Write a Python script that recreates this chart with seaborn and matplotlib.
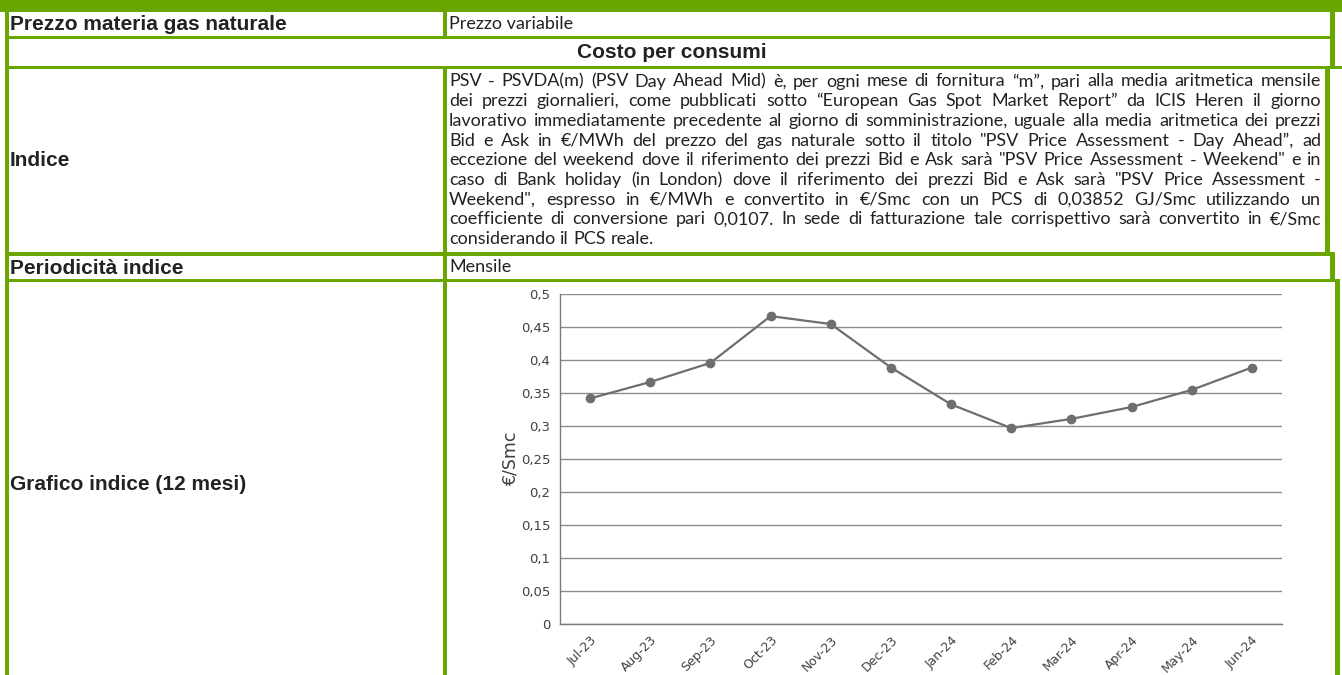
import matplotlib
matplotlib.use("Agg")
import matplotlib.pyplot as plt
import pandas as pd
import seaborn as sns
from matplotlib.patches import Rectangle
from matplotlib.font_manager import FontProperties

# Data
mesi = ["Jul-23", "Aug-23", "Sep-23", "Oct-23", "Nov-23", "Dec-23",
        "Jan-24", "Feb-24", "Mar-24", "Apr-24", "May-24", "Jun-24"]
prezzo = [0.342, 0.367, 0.396, 0.467, 0.455, 0.389,
          0.333, 0.297, 0.311, 0.329, 0.355, 0.389]
y_ticks = [0, 0.05, 0.1, 0.15, 0.2, 0.25, 0.3, 0.35, 0.4, 0.45, 0.5]
y_tick_labels = ["0", "0,05", "0,1", "0,15", "0,2", "0,25",
                 "0,3", "0,35", "0,4", "0,45", "0,5"]
y_label = "€/Smc"

etichette = ["Prezzo materia gas naturale", "Indice",
             "Periodicità indice", "Grafico indice (12 mesi)"]
sezione = "Costo per consumi"
valori = ["Prezzo variabile", "Mensile"]
indice_righe = [
    "PSV - PSVDA(m) (PSV Day Ahead Mid) è, per ogni mese di fornitura “m”, pari alla media aritmetica mensile",
    "dei prezzi giornalieri, come pubblicati sotto “European Gas Spot Market Report” da ICIS Heren il giorno",
    "lavorativo immediatamente precedente al giorno di somministrazione, uguale alla media aritmetica dei prezzi",
    "Bid e Ask in €/MWh del prezzo del gas naturale sotto il titolo \"PSV Price Assessment - Day Ahead”, ad",
    "eccezione del weekend dove il riferimento dei prezzi Bid e Ask sarà \"PSV Price Assessment - Weekend\" e in",
    "caso di Bank holiday (in London) dove il riferimento dei prezzi Bid e Ask sarà \"PSV Price Assessment -",
    "Weekend\", espresso in €/MWh e convertito in €/Smc con un PCS di 0,03852 GJ/Smc utilizzando un",
    "coefficiente di conversione pari 0,0107. In sede di fatturazione tale corrispettivo sarà convertito in €/Smc",
    "considerando il PCS reale.",
]

W, H = 1342, 675
GREEN = "#6aa600"
TXT = "#222222"

sns.set_theme(style="white")
fig = plt.figure(figsize=(W / 100, H / 100), dpi=100)

# background layer in pixel coordinates
bg = fig.add_axes([0, 0, 1, 1])
bg.set_xlim(0, W)
bg.set_ylim(H, 0)
bg.axis("off")

borders = [
    (0, 0, W, 12),          # top band
    (5, 0, 9, H),           # left border
    (5, 36, 1335, 39),
    (5, 66, W, 69),
    (5, 252, 1335, 255.5),
    (5, 279, 1340, 282),
    (443, 12, 447, 36),     # column divider
    (443, 69, 447, H),
    (1330, 12, 1335, 66),   # right borders
    (1325, 69, 1330, 252),
    (1330, 255.5, 1335, 279),
    (1335, 282, 1340, H),
]
for x0, y0, x1, y1 in borders:
    bg.add_patch(Rectangle((x0, y0), x1 - x0, y1 - y0, color=GREEN, lw=0))

bold = dict(family="Liberation Sans", weight="bold", size=15, color=TXT)
for lab, yc in zip(etichette, [24, 161, 268, 484]):
    bg.text(10, yc, lab, ha="left", va="center", **bold)
bg.text(672, 52.5, sezione, ha="center", va="center", **bold)

reg = dict(family="Lato", size=13, color=TXT)
for val, yc in zip(valori, [24, 267.5]):
    bg.text(449, yc, val, ha="left", va="center", **reg)

# justified paragraph
renderer = fig.canvas.get_renderer()
x_left, x_right = 449, 1321


def text_w(s, fp):
    return renderer.get_text_width_height_descent(s, fp, ismath=False)[0]


size = 13
fp = FontProperties(family="Lato", size=size)
widest = max(text_w(r, fp) for r in indice_righe)
if widest > x_right - x_left:
    size = size * (x_right - x_left) / widest
    fp = FontProperties(family="Lato", size=size)

for i, riga in enumerate(indice_righe):
    base = 86.5 + i * 19.7
    parole = riga.split(" ")
    larghezze = [text_w(p, fp) for p in parole]
    if i == len(indice_righe) - 1:
        gap = text_w("a a", fp) - 2 * text_w("a", fp)
    else:
        gap = (x_right - x_left - sum(larghezze)) / (len(parole) - 1)
    x = x_left
    for p, w in zip(parole, larghezze):
        bg.text(x, base, p, ha="left", va="baseline", fontproperties=fp, color=TXT)
        x += w + gap

# chart
ax = fig.add_axes([560 / W, 1 - 623.7 / H, 722 / W, (623.7 - 294) / H])
df = pd.DataFrame({"mese": mesi, "prezzo": prezzo})
sns.lineplot(data=df, x="mese", y="prezzo", sort=False, ax=ax,
             color="#6e6e6e", linewidth=1.6, marker="o", markersize=7,
             markeredgewidth=0)
ax.set_xlim(-0.5, 11.5)
ax.set_ylim(0, 0.5006)
ax.set_yticks(y_ticks)
ax.set_yticklabels(y_tick_labels)
ax.yaxis.grid(True, color="#8c8c8c", lw=1)
ax.xaxis.grid(False)
ax.set_axisbelow(True)
for s in ["top", "right"]:
    ax.spines[s].set_visible(False)
for s in ["left", "bottom"]:
    ax.spines[s].set_color("#7a7a7a")
    ax.spines[s].set_linewidth(1)
ax.tick_params(axis="both", length=4, width=1, color="#7a7a7a",
               labelcolor="#404040", direction="out", pad=3)
ax.tick_params(axis="y", labelsize=9.5)
ax.tick_params(axis="x", labelsize=9)
for lbl in ax.get_yticklabels():
    lbl.set_family("DejaVu Sans")
for lbl in ax.get_xticklabels():
    lbl.set_family("DejaVu Sans")
    lbl.set_rotation(45)
    lbl.set_ha("right")
    lbl.set_va("top")
    lbl.set_rotation_mode("anchor")
ax.set_xlabel("")
ax.set_ylabel(y_label, family="DejaVu Sans", fontsize=12.5, color="#404040")
ax.yaxis.set_label_coords(-0.056, 0.50)

fig.savefig("out.png", dpi=100)
